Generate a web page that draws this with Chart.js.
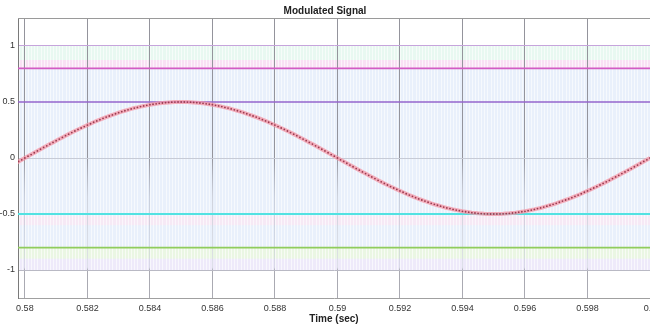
<!DOCTYPE html>
<html><head><meta charset="utf-8">
<script src="https://cdn.jsdelivr.net/npm/chart.js@4/dist/chart.umd.min.js"></script>
<style>
html,body{margin:0;padding:0;background:#fff;overflow:hidden;width:650px;height:329px}
#wrap{position:relative;width:670px;height:329px}
</style></head>
<body><div id="wrap"><canvas id="c"></canvas></div>
<script>
const chartTitle = 'Modulated Signal';
const xAxisTitle = 'Time (sec)';
const xMin = 0.57978, xMax = 0.6;
const yMin = -1.25, yMax = 1.25;
const sampleStart = 0.5797;
const sampleStep = 0.0001;
const signalValues = [
 -0.047, -0.031, -0.016,
 0.000, 0.016, 0.031, 0.047, 0.063, 0.078, 0.094, 0.109, 0.124, 0.139,
 0.155, 0.169, 0.184, 0.199, 0.213, 0.227, 0.241, 0.255, 0.268, 0.281,
 0.294, 0.306, 0.319, 0.331, 0.342, 0.354, 0.365, 0.375, 0.385, 0.395,
 0.405, 0.414, 0.422, 0.430, 0.438, 0.446, 0.452, 0.459, 0.465, 0.470,
 0.476, 0.480, 0.484, 0.488, 0.491, 0.494, 0.496, 0.498, 0.499, 0.500,
 0.500, 0.500, 0.499, 0.498, 0.496, 0.494, 0.491, 0.488, 0.484, 0.480,
 0.476, 0.470, 0.465, 0.459, 0.452, 0.446, 0.438, 0.430, 0.422, 0.414,
 0.405, 0.395, 0.385, 0.375, 0.365, 0.354, 0.342, 0.331, 0.319, 0.306,
 0.294, 0.281, 0.268, 0.255, 0.241, 0.227, 0.213, 0.199, 0.184, 0.169,
 0.155, 0.139, 0.124, 0.109, 0.094, 0.078, 0.063, 0.047, 0.031, 0.016,
 0.000, -0.016, -0.031, -0.047, -0.063, -0.078, -0.094, -0.109, -0.124, -0.139,
 -0.155, -0.169, -0.184, -0.199, -0.213, -0.227, -0.241, -0.255, -0.268, -0.281,
 -0.294, -0.306, -0.319, -0.331, -0.342, -0.354, -0.365, -0.375, -0.385, -0.395,
 -0.405, -0.414, -0.422, -0.430, -0.438, -0.446, -0.452, -0.459, -0.465, -0.470,
 -0.476, -0.480, -0.484, -0.488, -0.491, -0.494, -0.496, -0.498, -0.499, -0.500,
 -0.500, -0.500, -0.499, -0.498, -0.496, -0.494, -0.491, -0.488, -0.484, -0.480,
 -0.476, -0.470, -0.465, -0.459, -0.452, -0.446, -0.438, -0.430, -0.422, -0.414,
 -0.405, -0.395, -0.385, -0.375, -0.365, -0.354, -0.342, -0.331, -0.319, -0.306,
 -0.294, -0.281, -0.268, -0.255, -0.241, -0.227, -0.213, -0.199, -0.184, -0.169,
 -0.155, -0.139, -0.124, -0.109, -0.094, -0.078, -0.063, -0.047, -0.031, -0.016,
 0.000
];
const xTickValues = [0.58, 0.582, 0.584, 0.586, 0.588, 0.59, 0.592, 0.594, 0.596, 0.598, 0.6];
const xTickLabels = ['0.58','0.582','0.584','0.586','0.588','0.59','0.592','0.594','0.596','0.598','0.6'];
const yTickValues = [-1, -0.5, 0, 0.5, 1];
const yTickLabels = ['-1','-0.5','0','0.5','1'];
const thresholdValues = [0.8, 0.5, -0.5, -0.8];
const thresholdColors = ['#d35bc4', '#9466cc', '#52e2e2', '#8fcc5c'];
const thresholdWidths = [1.6, 1.4, 2.2, 1.6];
const bandLows   = [-1.0, 0.875, 0.8, -0.6, -0.9, -1.0];
const bandHighs  = [ 1.0, 1.0, 0.875, -0.52, -0.8, -0.9];
const bandColors = ['#e9f0fb', '#e8f8f1', '#f9e0f4', '#f6e9f5', '#eaf6e3', '#eeeafa'];
const yGridColors = {'-1':'#b9b9c4','-0.5':'rgba(0,0,0,0)','0':'#c7cbd6','0.5':'rgba(0,0,0,0)','1':'#c6a4dc'};

const times = signalValues.map((v, i) => +(sampleStart + i * sampleStep).toFixed(5));
const signalPoints = signalValues.map((v, i) => ({x: times[i], y: v}));

const bgPlugin = {
  id: 'bg',
  beforeDraw(chart) {
    const {ctx, chartArea: a, scales: {x, y}} = chart;
    ctx.save();
    ctx.beginPath(); ctx.rect(a.left, a.top, a.right - a.left, a.bottom - a.top); ctx.clip();
    bandLows.forEach((lo, i) => {
      const yt = y.getPixelForValue(bandHighs[i]), yb = y.getPixelForValue(lo);
      ctx.fillStyle = bandColors[i];
      ctx.fillRect(a.left, yt, a.right - a.left, yb - yt);
    });
    const yt = y.getPixelForValue(1), yb = y.getPixelForValue(-1);
    ctx.strokeStyle = 'rgba(255,255,255,0.6)';
    ctx.lineWidth = 1;
    for (let i = 0; i < times.length; i++) {
      const px = Math.round(x.getPixelForValue(times[i])) + 0.5;
      ctx.beginPath(); ctx.moveTo(px, yt); ctx.lineTo(px, yb); ctx.stroke();
    }
    ctx.restore();
  },
  afterDraw(chart) {
    const {ctx, chartArea: a} = chart;
    ctx.save();
    ctx.strokeStyle = '#9a9a9a'; ctx.lineWidth = 1;
    ctx.beginPath(); ctx.moveTo(a.left, Math.round(a.top) + 0.5); ctx.lineTo(a.right, Math.round(a.top) + 0.5); ctx.stroke();
    ctx.restore();
  }
};

function xGridColor(c) {
  const chart = c.chart, a = chart.chartArea;
  if (!a) return '#999';
  const g = chart.ctx.createLinearGradient(0, a.top, 0, a.bottom);
  g.addColorStop(0, '#94949c');
  g.addColorStop(0.5, '#94949c');
  g.addColorStop(0.64, 'rgba(175,180,195,0.55)');
  g.addColorStop(0.89, 'rgba(190,195,210,0.45)');
  g.addColorStop(0.9, '#aaaab2');
  g.addColorStop(1, '#aaaab2');
  return g;
}

const datasets = thresholdValues.map((v, i) => ({
  data: [{x: xMin, y: v}, {x: xMax, y: v}],
  borderColor: thresholdColors[i], borderWidth: thresholdWidths[i],
  pointRadius: 0, order: 2
}));
datasets.push({
  data: signalPoints,
  borderColor: 'rgba(244,150,165,0.75)', borderWidth: 4,
  pointRadius: 0.9, pointBackgroundColor: '#9a3c50', pointBorderWidth: 0,
  tension: 0, order: 1
});

new Chart(document.getElementById('c'), {
  type: 'line',
  data: {datasets},
  plugins: [bgPlugin],
  options: {
    responsive: true, maintainAspectRatio: false, animation: false,
    layout: {padding: {left: 0, right: 20, top: 0, bottom: 0}},
    plugins: {
      legend: {display: false}, tooltip: {enabled: false},
      title: {display: true, text: chartTitle, color: '#222',
        font: {family: 'Liberation Sans', size: 10, weight: 'bold'}, padding: {top: 5, bottom: 1}}
    },
    scales: {
      x: {
        type: 'linear', min: xMin, max: xMax,
        afterBuildTicks: s => { s.ticks = xTickValues.map(v => ({value: v})); },
        afterFit: s => { s.height = 31; },
        ticks: {autoSkip: false, maxRotation: 0, padding: 5, color: '#333',
          font: {family: 'Liberation Sans', size: 9},
          callback: (v, i) => xTickLabels[i]},
        grid: {color: xGridColor, drawTicks: false, lineWidth: 1},
        border: {display: true, color: '#a0a0a0'},
        title: {display: true, text: xAxisTitle, color: '#222',
          font: {family: 'Liberation Sans', size: 10, weight: 'bold'}, padding: {top: 0, bottom: 4}}
      },
      y: {
        min: yMin, max: yMax,
        afterBuildTicks: s => { s.ticks = yTickValues.map(v => ({value: v})); },
        afterFit: s => { s.width = 18; },
        ticks: {padding: 3, color: '#333', font: {family: 'Liberation Sans', size: 9},
          callback: (v, i) => yTickLabels[i]},
        grid: {drawTicks: false, color: c => yGridColors[String(c.tick ? c.tick.value : '')] || '#ccc'},
        border: {display: true, color: '#7a7a7a'}
      }
    }
  }
});
</script>
</body></html>
